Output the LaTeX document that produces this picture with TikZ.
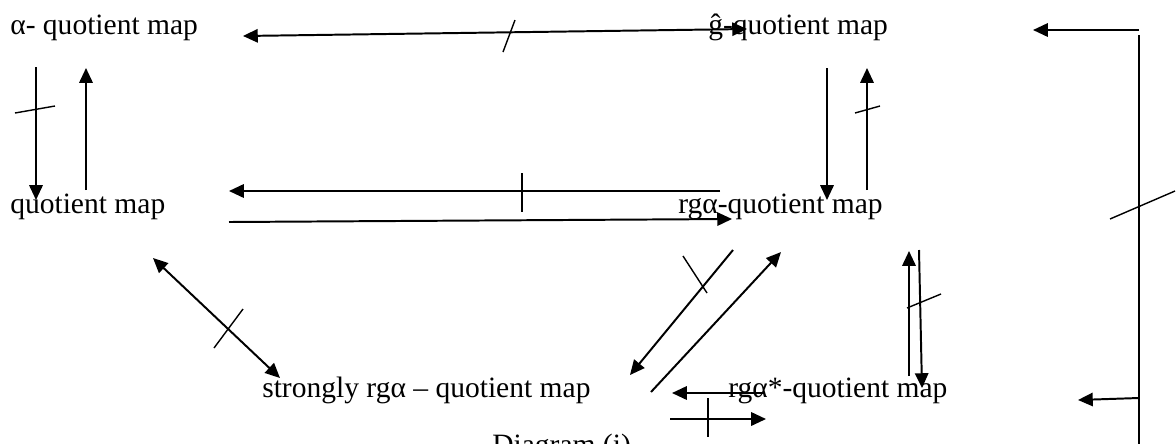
\documentclass[tikz,border=0pt]{standalone}
\usepackage{fontspec}
\setmainfont{Liberation Serif}
\usetikzlibrary{arrows.meta,positioning,calc}

\begin{document}
\begin{tikzpicture}[
    x=0.025cm,y=-0.025cm,
    >={Triangle[length=10.5pt,width=9.5pt]},
    arrow/.style={->,line width=1.4pt,draw=black},
    twoway/.style={<->,line width=1.4pt,draw=black},
    plain/.style={line width=1.4pt,draw=black},
    tick/.style={line width=1pt,draw=black},
    label/.style={anchor=base west,inner sep=0pt,font=\fontsize{21}{24}\selectfont}
  ]
    \useasboundingbox (0,0) rectangle (1176,443);
    \node[label] (alpha) at (10,34) {α- quotient map};
    \node[label] (ghat) at (708,34) {ĝ-quotient map};
    \node[label] (quot) at (10,213) {quotient map};
    \node[label] (rga) at (678,213) {rgα-quotient map};
    \node[label] (strong) at (262,397) {strongly rgα – quotient map};
    \node[label] (rgastar) at (728,397) {rgα*-quotient map};
    \node[label] (caption) at (492,454) {Diagram (i)};
    % top row
    \draw[twoway] ($(alpha.base west)+(233,2)$) -- ($(ghat.base west)+(39,-5)$);
    \draw[tick] (503,52) -- (515,20);
    % left column
    \draw[arrow] ($(alpha.base west)+(26,33)$) -- ($(quot.base west)+(26,-13)$);
    \draw[arrow] ($(quot.base west)+(76,-23)$) -- ($(alpha.base west)+(76,34)$);
    \draw[tick] (15,113) -- (55,106);
    % middle row
    \draw[arrow] ($(rga.base west)+(42,-22)$) -- ($(quot.base west)+(219,-22)$);
    \draw[tick] (522,173) -- (522,212);
    \draw[arrow] ($(quot.base west)+(219,9)$) -- ($(rga.base west)+(54,6)$);
    % right column
    \draw[arrow] ($(ghat.base west)+(119,34)$) -- ($(rga.base west)+(149,-13)$);
    \draw[arrow] ($(rga.base west)+(189,-23)$) -- ($(ghat.base west)+(159,34)$);
    \draw[tick] (855,113) -- (880,106);
    % diagonals
    \draw[twoway] ($(quot.base west)+(143,45)$) -- ($(strong.base west)+(18,-19)$);
    \draw[tick] (214,348) -- (243,309);
    \draw[arrow] ($(rga.base west)+(55,37)$) -- ($(strong.base west)+(368,-22)$);
    \draw[tick] (683,256) -- (707,293);
    \draw[arrow] ($(strong.base west)+(389,-5)$) -- ($(rga.base west)+(103,39)$);
    % lower right
    \draw[arrow] ($(rgastar.base west)+(181,-21)$) -- ($(rga.base west)+(231,38)$);
    \draw[arrow] ($(rga.base west)+(241,37)$) -- ($(rgastar.base west)+(194,-9)$);
    \draw[tick] (907,308) -- (941,294);
    % bottom row
    \draw[arrow] ($(rgastar.base west)+(36,-4)$) -- ($(strong.base west)+(410,-4)$);
    \draw[arrow] ($(strong.base west)+(408,22)$) -- ($(rgastar.base west)+(38,22)$);
    \draw[tick] (708,398) -- (708,437);
    % outer bracket
    \coordinate (rtop) at (1139,30);
    \coordinate (rlow) at (1139,398);
    \coordinate (rend) at (1139,450);
    \draw[plain] ($(rtop)+(0,5)$) -- (rend);
    \draw[arrow] (rtop) -- ($(ghat.base west)+(325,-4)$);
    \draw[arrow] (rlow) -- ($(rgastar.base west)+(350,3)$);
    \draw[tick] (1110,219) -- (1175,191);
  \end{tikzpicture}
\end{document}
